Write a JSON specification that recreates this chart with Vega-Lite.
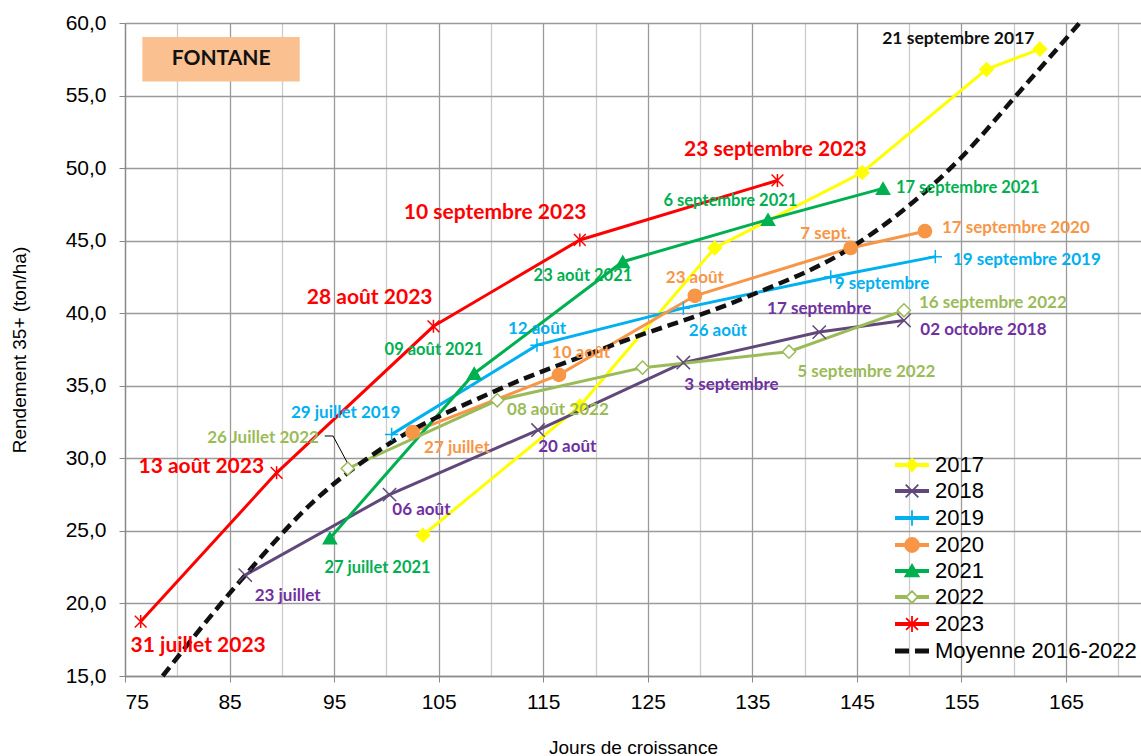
{
  "$schema": "https://vega.github.io/schema/vega-lite/v6.json",
  "width": 1016,
  "height": 653,
  "autosize": {"type": "none"},
  "padding": {"left": 125, "top": 23, "right": 0, "bottom": 80},
  "background": "white",
  "config": {"view": {"stroke": null}},
  "resolve": {"scale": {"shape": "independent", "size": "independent", "fill": "independent", "stroke": "independent"}},
  "datasets": {
    "series": [
      {"series": "2017", "day": 103.5, "value": 24.7},
      {"series": "2017", "day": 118.5, "value": 33.6},
      {"series": "2017", "day": 131.4, "value": 44.5},
      {"series": "2017", "day": 145.5, "value": 49.7},
      {"series": "2017", "day": 157.4, "value": 56.8},
      {"series": "2017", "day": 162.5, "value": 58.2},
      {"series": "2018", "day": 86.5, "value": 21.95},
      {"series": "2018", "day": 100.3, "value": 27.5},
      {"series": "2018", "day": 114.5, "value": 31.95},
      {"series": "2018", "day": 128.4, "value": 36.6},
      {"series": "2018", "day": 141.4, "value": 38.7},
      {"series": "2018", "day": 149.5, "value": 39.5},
      {"series": "2019", "day": 100.5, "value": 31.65},
      {"series": "2019", "day": 114.4, "value": 37.8},
      {"series": "2019", "day": 128.4, "value": 40.35},
      {"series": "2019", "day": 142.5, "value": 42.5},
      {"series": "2019", "day": 152.5, "value": 43.9},
      {"series": "2020", "day": 102.5, "value": 31.8},
      {"series": "2020", "day": 116.5, "value": 35.75},
      {"series": "2020", "day": 129.5, "value": 41.2},
      {"series": "2020", "day": 144.4, "value": 44.5},
      {"series": "2020", "day": 151.5, "value": 45.65},
      {"series": "2021", "day": 94.6, "value": 24.5},
      {"series": "2021", "day": 108.4, "value": 35.85},
      {"series": "2021", "day": 122.6, "value": 43.55},
      {"series": "2021", "day": 136.5, "value": 46.45},
      {"series": "2021", "day": 147.5, "value": 48.6},
      {"series": "2022", "day": 96.3, "value": 29.3},
      {"series": "2022", "day": 110.6, "value": 34.0},
      {"series": "2022", "day": 124.5, "value": 36.25},
      {"series": "2022", "day": 138.5, "value": 37.35},
      {"series": "2022", "day": 149.5, "value": 40.2},
      {"series": "2023", "day": 76.5, "value": 18.75},
      {"series": "2023", "day": 89.5, "value": 29.0},
      {"series": "2023", "day": 104.5, "value": 39.1},
      {"series": "2023", "day": 118.5, "value": 45.05},
      {"series": "2023", "day": 137.4, "value": 49.15}
    ],
    "mean": [
      {"series": "Moyenne 2016-2022", "day": 78.6, "value": 15.0},
      {"series": "Moyenne 2016-2022", "day": 86.5, "value": 21.95},
      {"series": "Moyenne 2016-2022", "day": 93.0, "value": 27.0},
      {"series": "Moyenne 2016-2022", "day": 99.4, "value": 30.6},
      {"series": "Moyenne 2016-2022", "day": 110.6, "value": 34.7},
      {"series": "Moyenne 2016-2022", "day": 122.0, "value": 37.9},
      {"series": "Moyenne 2016-2022", "day": 134.4, "value": 41.1},
      {"series": "Moyenne 2016-2022", "day": 144.4, "value": 44.5},
      {"series": "Moyenne 2016-2022", "day": 154.8, "value": 50.6},
      {"series": "Moyenne 2016-2022", "day": 160.6, "value": 55.3},
      {"series": "Moyenne 2016-2022", "day": 166.3, "value": 60.0}
    ],
    "leader": [
      {"day": 94.1, "value": 31.54},
      {"day": 94.9, "value": 31.54},
      {"day": 96.5, "value": 29.38}
    ],
    "box": [
      {"day": 76.66, "day2": 91.71, "value": 59.03, "value2": 55.97}
    ],
    "labels": [
      {"series": "box", "day": 84.19, "value": 57.52, "text": "FONTANE"},
      {"series": "2023", "day": 82.0, "value": 17.1, "text": "31 juillet 2023"},
      {"series": "2023", "day": 82.3, "value": 29.4, "text": "13 août 2023"},
      {"series": "2023", "day": 98.4, "value": 41.05, "text": "28 août 2023"},
      {"series": "2023", "day": 110.4, "value": 46.9, "text": "10 septembre 2023"},
      {"series": "2023", "day": 137.2, "value": 51.25, "text": "23 septembre 2023"},
      {"series": "2017", "day": 154.7, "value": 58.9, "text": "21 septembre 2017"},
      {"series": "2021", "day": 132.9, "value": 47.7, "text": "6 septembre 2021"},
      {"series": "2021", "day": 155.6, "value": 48.65, "text": "17 septembre 2021"},
      {"series": "2021", "day": 118.8, "value": 42.55, "text": "23 août 2021"},
      {"series": "2021", "day": 104.55, "value": 37.45, "text": "09 août 2021"},
      {"series": "2021", "day": 99.15, "value": 22.45, "text": "27 juillet 2021"},
      {"series": "2020", "day": 160.2, "value": 45.9, "text": "17 septembre 2020"},
      {"series": "2020", "day": 142.0, "value": 45.45, "text": "7 sept."},
      {"series": "2020", "day": 129.5, "value": 42.4, "text": "23 août"},
      {"series": "2020", "day": 118.6, "value": 37.25, "text": "10 août"},
      {"series": "2020", "day": 106.75, "value": 30.7, "text": "27 juillet"},
      {"series": "2019", "day": 161.25, "value": 43.7, "text": "19 septembre 2019"},
      {"series": "2019", "day": 147.4, "value": 42.0, "text": "9 septembre"},
      {"series": "2019", "day": 131.7, "value": 38.8, "text": "26 août"},
      {"series": "2019", "day": 114.4, "value": 38.9, "text": "12 août"},
      {"series": "2019", "day": 96.1, "value": 33.1, "text": "29 juillet 2019"},
      {"series": "2022", "day": 158.0, "value": 40.7, "text": "16 septembre 2022"},
      {"series": "2022", "day": 145.9, "value": 35.95, "text": "5 septembre 2022"},
      {"series": "2022", "day": 116.4, "value": 33.3, "text": "08 août 2022"},
      {"series": "2022", "day": 88.2, "value": 31.4, "text": "26 Juillet 2022"},
      {"series": "2018", "day": 141.4, "value": 40.3, "text": "17 septembre"},
      {"series": "2018", "day": 157.1, "value": 38.85, "text": "02 octobre 2018"},
      {"series": "2018", "day": 133.0, "value": 35.05, "text": "3 septembre"},
      {"series": "2018", "day": 117.3, "value": 30.8, "text": "20 août"},
      {"series": "2018", "day": 103.35, "value": 26.45, "text": "06 août"},
      {"series": "2018", "day": 90.55, "value": 20.5, "text": "23 juillet"}
    ]
  },
  "encoding": {
    "x": {
      "field": "day",
      "type": "quantitative",
      "scale": {"domain": [75, 172.17], "nice": false, "zero": false},
      "axis": {
        "title": "Jours de croissance",
        "values": [75, 80, 85, 90, 95, 100, 105, 110, 115, 120, 125, 130, 135, 140, 145, 150, 155, 160, 165, 170],
        "labelExpr": "(datum.value - 75) % 10 === 0 ? datum.label : ''",
        "labelFont": "Liberation Sans",
        "labelFontSize": 21,
        "labelColor": "#000000",
        "labelDx": 5,
        "labelPadding": 9,
        "tickSize": 6,
        "tickColor": "#888888",
        "tickOpacity": {"condition": {"test": "(datum.value - 75) % 10 === 0", "value": 1}, "value": 0},
        "gridColor": {"condition": {"test": "(datum.value - 75) % 10 === 0", "value": "#9a9a9a"}, "value": "#cccccc"},
        "gridOpacity": 1,
        "gridWidth": 1.3,
        "domainColor": "#8a8a8a",
        "domainWidth": 1.3,
        "titleFont": "Liberation Sans",
        "titleFontSize": 19,
        "titleFontWeight": "normal",
        "titleColor": "#000000",
        "titlePadding": 26
      }
    },
    "y": {
      "field": "value",
      "type": "quantitative",
      "scale": {"domain": [15, 60], "nice": false, "zero": false},
      "axis": {
        "title": "Rendement 35+ (ton/ha)",
        "values": [15, 20, 25, 30, 35, 40, 45, 50, 55, 60],
        "labelExpr": "replace(format(datum.value, '.1f'), '.', ',')",
        "labelFont": "Liberation Sans",
        "labelFontSize": 21,
        "labelColor": "#000000",
        "labelPadding": 13,
        "tickSize": 6,
        "tickColor": "#888888",
        "gridColor": "#9a9a9a",
        "gridOpacity": 1,
        "gridWidth": 1.3,
        "domainColor": "#8a8a8a",
        "domainWidth": 1.3,
        "titleFont": "Liberation Sans",
        "titleFontSize": 19,
        "titleFontWeight": "normal",
        "titleColor": "#000000",
        "titlePadding": 36
      }
    }
  },
  "layer": [
    {
      "data": {"name": "box"},
      "mark": {"type": "rect", "fill": "#FAC090"},
      "encoding": {"x2": {"field": "day2"}, "y2": {"field": "value2"}}
    },
    {
      "data": {"name": "labels"},
      "transform": [{"filter": "datum.series === 'box'"}],
      "mark": {"type": "text", "font": "Lato", "fontWeight": "bold", "fontSize": 21, "color": "#111111", "align": "center", "baseline": "middle"},
      "encoding": {"text": {"field": "text"}}
    },
    {
      "data": {"name": "series"},
      "mark": {"type": "line", "strokeWidth": 3},
      "encoding": {
        "color": {
          "field": "series",
          "type": "nominal",
          "scale": {
            "domain": ["2017", "2018", "2019", "2020", "2021", "2022", "2023", "Moyenne 2016-2022"],
            "range": ["#FFFF00", "#60497A", "#00B0F0", "#F79646", "#00B050", "#9BBB59", "#FF0000", "#111111"]
          },
          "legend": null
        }
      }
    },
    {
      "data": {"name": "mean"},
      "mark": {"type": "line", "strokeWidth": 4.5, "strokeDash": [11, 6], "interpolate": "monotone"},
      "encoding": {"color": {"field": "series", "type": "nominal", "legend": null}}
    },
    {
      "data": {"name": "leader"},
      "mark": {"type": "line", "strokeWidth": 1, "color": "#000000"},
      "encoding": {}
    },
    {
      "data": {"name": "series"},
      "mark": {"type": "point", "opacity": 1, "strokeWidth": 1.5},
      "encoding": {
        "shape": {
          "field": "series",
          "type": "nominal",
          "scale": {
            "domain": ["2017", "2018", "2019", "2020", "2021", "2022", "2023"],
            "range": ["diamond", "M-1,-1L1,1M-1,1L1,-1", "M-1,0L1,0M0,-1L0,1", "circle", "triangle-up", "diamond", "M-0.9,-0.9L0.9,0.9M-0.9,0.9L0.9,-0.9M0,-1L0,1"]
          },
          "legend": null
        },
        "size": {
          "field": "series",
          "type": "nominal",
          "scale": {
            "domain": ["2017", "2018", "2019", "2020", "2021", "2022", "2023"],
            "range": [180, 170, 200, 210, 200, 170, 400]
          },
          "legend": null
        },
        "fill": {
          "field": "series",
          "type": "nominal",
          "scale": {
            "domain": ["2017", "2018", "2019", "2020", "2021", "2022", "2023"],
            "range": ["#FFFF00", "transparent", "transparent", "#F79646", "#00B050", "#FFFFFF", "transparent"]
          },
          "legend": null
        },
        "stroke": {
          "field": "series",
          "type": "nominal",
          "scale": {
            "domain": ["2017", "2018", "2019", "2020", "2021", "2022", "2023"],
            "range": ["#FFFF00", "#60497A", "#00B0F0", "#F79646", "#00B050", "#9BBB59", "#FF0000"]
          },
          "legend": null
        }
      }
    },
    {
      "data": {"name": "labels"},
      "transform": [{"filter": "datum.series === '2023'"}],
      "mark": {"type": "text", "font": "Lato", "fontWeight": "bold", "fontSize": 21, "color": "#FF0000", "align": "center", "baseline": "middle"},
      "encoding": {"text": {"field": "text"}}
    },
    {
      "data": {"name": "labels"},
      "transform": [{"filter": "datum.series === '2017'"}],
      "mark": {"type": "text", "font": "Lato", "fontWeight": "bold", "fontSize": 17.5, "color": "#111111", "align": "center", "baseline": "middle"},
      "encoding": {"text": {"field": "text"}}
    },
    {
      "data": {"name": "labels"},
      "transform": [{"filter": "datum.series === '2018'"}],
      "mark": {"type": "text", "font": "Lato", "fontWeight": "bold", "fontSize": 17, "color": "#7030A0", "align": "center", "baseline": "middle"},
      "encoding": {"text": {"field": "text"}}
    },
    {
      "data": {"name": "labels"},
      "transform": [{"filter": "datum.series === '2019'"}],
      "mark": {"type": "text", "font": "Lato", "fontWeight": "bold", "fontSize": 17, "color": "#00B0F0", "align": "center", "baseline": "middle"},
      "encoding": {"text": {"field": "text"}}
    },
    {
      "data": {"name": "labels"},
      "transform": [{"filter": "datum.series === '2020'"}],
      "mark": {"type": "text", "font": "Lato", "fontWeight": "bold", "fontSize": 17, "color": "#F79646", "align": "center", "baseline": "middle"},
      "encoding": {"text": {"field": "text"}}
    },
    {
      "data": {"name": "labels"},
      "transform": [{"filter": "datum.series === '2021'"}],
      "mark": {"type": "text", "font": "Lato", "fontWeight": "bold", "fontSize": 16.5, "color": "#00B050", "align": "center", "baseline": "middle"},
      "encoding": {"text": {"field": "text"}}
    },
    {
      "data": {"name": "labels"},
      "transform": [{"filter": "datum.series === '2022'"}],
      "mark": {"type": "text", "font": "Lato", "fontWeight": "bold", "fontSize": 17, "color": "#9BBB59", "align": "center", "baseline": "middle"},
      "encoding": {"text": {"field": "text"}}
    },
    {
      "data": {"name": "mean"},
      "transform": [{"filter": "false"}],
      "mark": {"type": "point", "opacity": 1, "strokeWidth": 1.8, "strokeJoin": "round"},
      "encoding": {
        "shape": {
          "field": "series",
          "type": "nominal",
          "scale": {
            "domain": ["2017", "2018", "2019", "2020", "2021", "2022", "2023", "Moyenne 2016-2022"],
            "range": [
              "M-2.43,-0.15L2.43,-0.15M-2.43,0L2.43,0M-2.43,0.15L2.43,0.15M0,-0.9L0.75,0L0,0.9L-0.75,0Z",
              "M-2.43,-0.15L2.43,-0.15M-2.43,0L2.43,0M-2.43,0.15L2.43,0.15M-0.9,-0.9L0.9,0.9M-0.9,0.9L0.9,-0.9",
              "M-2.43,-0.15L2.43,-0.15M-2.43,0L2.43,0M-2.43,0.15L2.43,0.15M0,-1.1L0,1.1",
              "M-2.43,-0.15L2.43,-0.15M-2.43,0L2.43,0M-2.43,0.15L2.43,0.15M-1,0A1,1 0 1,0 1,0A1,1 0 1,0 -1,0Z",
              "M-2.43,-0.15L2.43,-0.15M-2.43,0L2.43,0M-2.43,0.15L2.43,0.15M0,-0.9L0.95,0.75L-0.95,0.75Z",
              "M-2.43,-0.15L-0.8,-0.15M-2.43,0L-0.8,0M-2.43,0.15L-0.8,0.15M0.8,-0.15L2.43,-0.15M0.8,0L2.43,0M0.8,0.15L2.43,0.15M0,-0.85L0.8,0L0,0.85L-0.8,0Z",
              "M-2.43,-0.15L2.43,-0.15M-2.43,0L2.43,0M-2.43,0.15L2.43,0.15M-0.85,-0.85L0.85,0.85M-0.85,0.85L0.85,-0.85M0,-1.15L0,1.15",
              "M-2.3,-0.22L-0.55,-0.22L-0.55,0.22L-2.3,0.22ZM0.55,-0.22L2.3,-0.22L2.3,0.22L0.55,0.22Z"
            ]
          },
          "legend": {
            "orient": "none",
            "legendX": 776,
            "legendY": 431,
            "title": null,
            "padding": 0,
            "symbolSize": 196,
            "symbolStrokeWidth": 1.8,
            "symbolOpacity": 1,
            "labelFont": "Liberation Sans",
            "labelFontSize": 22,
            "labelColor": "#000000",
            "labelOffset": 12,
            "labelLimit": 400,
            "rowPadding": 4
          }
        },
        "fill": {
          "field": "series",
          "type": "nominal",
          "scale": {
            "domain": ["2017", "2018", "2019", "2020", "2021", "2022", "2023", "Moyenne 2016-2022"],
            "range": ["#FFFF00", "#60497A", "#00B0F0", "#F79646", "#00B050", "#FFFFFF", "#FF0000", "#111111"]
          }
        },
        "stroke": {
          "field": "series",
          "type": "nominal",
          "scale": {
            "domain": ["2017", "2018", "2019", "2020", "2021", "2022", "2023", "Moyenne 2016-2022"],
            "range": ["#FFFF00", "#60497A", "#00B0F0", "#F79646", "#00B050", "#9BBB59", "#FF0000", "#111111"]
          }
        }
      }
    }
  ]
}
